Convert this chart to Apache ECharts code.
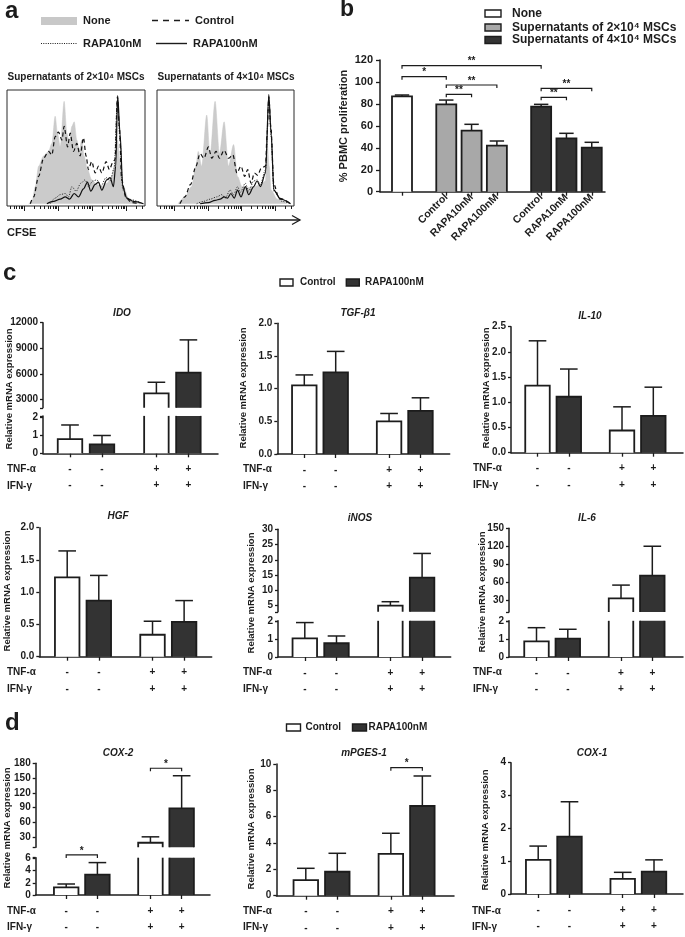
<!DOCTYPE html>
<html><head><meta charset="utf-8"><title>RAPA MSC figure</title>
<script src="https://cdn.jsdelivr.net/npm/echarts@6/dist/echarts.min.js"></script>
<style>html,body{margin:0;padding:0;background:#fff;}#chart{width:685px;height:937px;}</style>
</head><body><div id="chart"></div>
<script>
// ======================= DATA =======================
// Panel a: CFSE histograms  [CFSE channel (0-100), relative count (0-100)]
const aLegend = ['None', 'Control', 'RAPA10nM', 'RAPA100nM'];
const aTitles = ['Supernatants of 2×10⁴ MSCs', 'Supernatants of 4×10⁴ MSCs'];
const aAxisName = 'CFSE';
const cfse2None = [[15.7,0],[18.1,2],[20.5,15],[22.9,33],[26.5,42],[30.1,46],[32.5,53],[34.9,77],[36.6,62],[38.6,50],[41.4,90],[43.4,62],[45.1,53],[47.0,68],[48.7,72],[50.6,56],[52.3,47],[54.2,56],[55.9,42],[58.3,30],[61.4,21],[65.1,17],[68.7,15],[72.3,18],[75.9,24],[78.3,36],[80.0,56],[81.9,39],[84.3,15],[88.0,5],[91.6,1],[98.8,0]];
const cfse2Control = [[16.9,0],[19.3,6],[22.9,24],[26.5,40],[30.1,46],[32.5,43],[34.9,59],[37.3,63],[39.8,56],[41.4,68],[43.9,50],[45.8,62],[48.2,46],[50.6,53],[53.0,42],[55.4,58],[57.3,42],[59.0,30],[61.4,37],[63.9,27],[66.3,33],[68.7,27],[71.8,37],[74.2,30],[76.6,36],[78.3,39],[80.0,94],[81.4,68],[83.1,21],[86.3,5],[90.4,1],[96.4,0]];
const cfse2Rapa10 = [[31.3,0],[34.9,5],[38.6,8],[42.2,9],[44.6,6],[47.0,15],[50.1,11],[53.5,18],[56.6,21],[59.0,15],[62.2,20],[65.1,21],[67.9,15],[71.8,23],[74.7,20],[77.6,31],[80.0,91],[81.9,56],[83.9,12],[88.0,4],[98.8,0]];
const cfse2Rapa100 = [[28.9,0],[33.7,2],[38.6,4],[42.2,6],[45.3,4],[48.7,9],[51.8,6],[55.4,13],[58.3,19],[60.7,11],[63.9,17],[66.3,19],[68.7,12],[72.3,21],[74.7,23],[77.1,15],[78.8,33],[80.2,95],[81.9,62],[83.9,15],[86.7,5],[91.6,2],[98.8,0]];
const cfse4None = [[15.4,0],[20.3,6],[25.2,15],[28.4,33],[30.1,46],[32.6,33],[36.3,78],[38.7,42],[42.4,90],[45.6,44],[49.0,72],[52.2,33],[55.9,52],[58.8,24],[62.0,15],[65.7,14],[70.6,15],[75.5,17],[79.2,20],[80.4,53],[81.9,33],[83.3,12],[87.7,4],[95.1,0]];
const cfse4Control = [[16.7,0],[20.3,6],[24.5,17],[28.4,33],[31.4,44],[34.3,40],[37.5,50],[40.0,40],[43.1,46],[45.6,40],[49.0,47],[52.2,40],[55.4,43],[58.3,27],[61.3,33],[64.0,24],[66.2,30],[68.6,18],[71.1,27],[73.5,25],[76.0,31],[79.2,33],[80.4,62],[81.6,94],[83.1,68],[85.3,17],[89.0,5],[97.5,0]];
const cfse4Rapa10 = [[28.9,0],[33.8,2],[38.7,4],[43.6,6],[47.3,8],[49.8,5],[53.4,12],[55.9,8],[58.8,15],[60.8,10],[64.5,18],[66.9,11],[70.6,20],[73.0,21],[75.5,17],[79.2,30],[81.6,91],[83.3,59],[85.3,11],[91.4,2],[97.5,0]];
const cfse4Rapa100 = [[31.4,0],[37.5,1],[42.4,3],[46.1,4],[49.0,6],[51.5,5],[53.9,9],[56.4,5],[58.8,12],[61.3,6],[64.5,15],[66.9,8],[70.6,15],[73.0,20],[75.5,15],[79.2,27],[81.6,96],[83.3,62],[85.3,12],[90.2,4],[97.5,0]];

// Panel b: % PBMC proliferation
const bLegend = ['None', 'Supernatants of 2×10⁴ MSCs', 'Supernatants of 4×10⁴ MSCs'];
const bLabels = ['', 'Control', 'RAPA10nM', 'RAPA100nM', 'Control', 'RAPA10nM', 'RAPA100nM'];
const bGroup = [0, 1, 1, 1, 2, 2, 2];
const bMean = [86.8, 79.6, 55.6, 41.9, 77.5, 48.6, 40.1];
const bErr = [1.3, 3.9, 5.8, 4.3, 2.1, 4.6, 4.9];
const bYName = '% PBMC proliferation';
const bYTicks = [0, 20, 40, 60, 80, 100, 120];
// significance: [bar i, bar j, bracket height, mark]
const bSig = [[0, 4, 114.8, '**'], [0, 1, 104.8, '*'], [1, 3, 97.2, '**'], [1, 2, 88.7, '**'], [4, 6, 94.2, '**'], [4, 5, 86.0, '**']];

// Panels c & d: relative mRNA expression
// bar order: Control(-/-), RAPA100nM(-/-), Control(+/+), RAPA100nM(+/+)
const cdLegend = ['Control', 'RAPA100nM'];
const barGroup = [0, 1, 0, 1];
const tnfAlpha = ['-', '-', '+', '+'];
const ifnGamma = ['-', '-', '+', '+'];
const yName = 'Relative mRNA expression';

const idoMean = [0.8, 0.5, 3700, 6130];     const idoErr = [0.79, 0.5, 1300, 3850];
const tgfMean = [1.05, 1.25, 0.50, 0.66];   const tgfErr = [0.16, 0.32, 0.12, 0.20];
const il10Mean = [1.33, 1.11, 0.44, 0.73];  const il10Err = [0.89, 0.55, 0.47, 0.57];
const hgfMean = [1.23, 0.87, 0.34, 0.54];   const hgfErr = [0.41, 0.39, 0.21, 0.33];
const inosMean = [1.06, 0.78, 5.0, 14.2];   const inosErr = [0.89, 0.41, 1.3, 7.9];
const il6Mean = [0.89, 1.04, 32.8, 70.7];   const il6Err = [0.77, 0.53, 22.2, 49.3];
const cox2Mean = [1.26, 3.33, 19.0, 88.8];  const cox2Err = [0.54, 1.97, 12.0, 66.0];
const mpgesMean = [1.19, 1.82, 3.17, 6.81]; const mpgesErr = [0.89, 1.40, 1.57, 2.28];
const cox1Mean = [1.04, 1.75, 0.46, 0.68];  const cox1Err = [0.42, 1.06, 0.20, 0.36];
const cox2Sig = [[0, 1, 6.55, '*'], [2, 3, 170, '*']];
const mpgesSig = [[2, 3, 9.72, '*']];

// tick labels
const idoUpperTicks = [3000, 6000, 9000, 12000]; const idoLowerTicks = [0, 1, 2];
const inosUpperTicks = [5, 10, 15, 20, 25, 30];  const inosLowerTicks = [0, 1, 2];
const il6UpperTicks = [30, 60, 90, 120, 150];    const il6LowerTicks = [0, 1, 2];
const cox2UpperTicks = [30, 60, 90, 120, 150, 180]; const cox2LowerTicks = [0, 2, 4, 6];

// ======================= STYLE / LAYOUT =======================
const FONT = '"Liberation Sans", Arial, Helvetica, "DejaVu Sans", sans-serif';
const INK = '#1c1c1c';
const cdFills = ['#ffffff', '#333333'];
const bFills = ['#ffffff', '#a8a8a8', '#333333'];
const POS = [0, 1, 2.7, 3.7];
const bSlots = [0, 1.75, 2.75, 3.75, 5.5, 6.5, 7.5];

const grids = [], xAxes = [], yAxes = [], series = [], graphics = [];

function txt(x, y, text, o) {
  o = o || {};
  graphics.push({type: 'text', x: x, y: y, rotation: o.rot || 0, silent: true,
    style: {text: text, fill: INK, fontFamily: FONT, fontSize: o.size || 10, fontWeight: o.weight || 'bold',
      fontStyle: o.italic ? 'italic' : 'normal', align: o.align || 'left', verticalAlign: 'middle'}});
}
function rect(x, y, w, h, fill, stroke) {
  graphics.push({type: 'rect', silent: true, shape: {x: x, y: y, width: w, height: h},
    style: {fill: fill, stroke: stroke || null, lineWidth: stroke ? 1.4 : 0}});
}
function seg(x1, y1, x2, y2, dash, w) {
  graphics.push({type: 'line', silent: true, shape: {x1: x1, y1: y1, x2: x2, y2: y2},
    style: {stroke: INK, lineWidth: w || 1.3, lineDash: dash || null}});
}

// ---------- bar renderer (manual clipping for broken axes) ----------
function barRender(barPx, fills) {
  return function (params, api) {
    const x = api.value(0), v = api.value(1), e = api.value(2), ci = api.value(3);
    const cs = params.coordSys;
    const yTop = cs.y, yBot = cs.y + cs.height;
    const pT = api.coord([x, v]), pB = api.coord([x, 0]);
    if (pT[1] > yBot + 0.5) return null;
    const cx = pT[0], h = barPx / 2;
    const topVis = pT[1] >= yTop - 0.5;
    const yt = Math.max(pT[1], yTop), yb = Math.min(pB[1], yBot);
    const st = {stroke: INK, lineWidth: 1.8, fill: null};
    const kids = [{type: 'rect', shape: {x: cx - h, y: yt, width: barPx, height: yb - yt}, style: {fill: fills[ci]}}];
    if (topVis) {
      kids.push({type: 'polyline', shape: {points: [[cx - h, yb], [cx - h, yt], [cx + h, yt], [cx + h, yb]]}, style: st});
      if (e > 0) {
        const pe = api.coord([x, v + e]);
        const cap = barPx * 0.36;
        kids.push({type: 'line', shape: {x1: cx, y1: yt, x2: cx, y2: pe[1]}, style: {stroke: INK, lineWidth: 1.5}});
        kids.push({type: 'line', shape: {x1: cx - cap, y1: pe[1], x2: cx + cap, y2: pe[1]}, style: {stroke: INK, lineWidth: 1.5}});
      }
    } else {
      kids.push({type: 'line', shape: {x1: cx - h, y1: yt, x2: cx - h, y2: yb}, style: st});
      kids.push({type: 'line', shape: {x1: cx + h, y1: yt, x2: cx + h, y2: yb}, style: st});
    }
    return {type: 'group', children: kids};
  };
}
function sigRender(marks) {
  return function (params, api) {
    const p1 = api.coord([api.value(0), api.value(2)]), p2 = api.coord([api.value(1), api.value(2)]);
    return {type: 'group', children: [
      {type: 'polyline', shape: {points: [[p1[0], p1[1] + 3], [p1[0], p1[1]], [p2[0], p2[1]], [p2[0], p2[1] + 3]]},
        style: {stroke: INK, lineWidth: 1.2, fill: null}},
      {type: 'text', style: {text: marks[params.dataIndex], x: (p1[0] + p2[0]) / 2, y: p1[1] + 1, align: 'center',
        verticalAlign: 'bottom', fontFamily: FONT, fontSize: 10, fontWeight: 'bold', fill: INK}}
    ]};
  };
}

const axisLineStyle = {show: true, onZero: false, lineStyle: {color: INK, width: 1.5}};
const labelStyle = {color: INK, fontFamily: FONT, fontSize: 10, fontWeight: 'bold'};

// ---------- Panel a ----------
const DEC = [12.5, 37.1, 61.7, 86.3];
const MINOR = [];
for (let d = -1; d < 4; d++) for (let k = 2; k <= 9; k++) {
  const v = 12.5 + 24.6 * (d + Math.log10(k));
  if (v > 0.5 && v < 99.5) MINOR.push(+v.toFixed(2));
}
function addHist(L, curves) {
  const gi = grids.length;
  grids.push({left: L.left, top: L.top, width: L.width, height: L.height, show: true, borderColor: '#2a2a2a',
    borderWidth: 1, backgroundColor: 'transparent', containLabel: false, outerBoundsMode: 'none'});
  [[DEC, 5], [MINOR, 3]].forEach(function (t) {
    xAxes.push({gridIndex: gi, type: 'value', position: 'bottom', min: 0, max: 100, axisLine: {show: false, onZero: false},
      splitLine: {show: false}, axisLabel: {show: false},
      axisTick: {show: true, inside: false, length: t[1], customValues: t[0], lineStyle: {color: INK, width: 1}}});
  });
  yAxes.push({gridIndex: gi, type: 'value', min: -2, max: 100, show: false, splitLine: {show: false}});
  const xi = xAxes.length - 2, yi = yAxes.length - 1;
  const base = {type: 'line', xAxisIndex: xi, yAxisIndex: yi, symbol: 'none', smooth: 0.3, smoothMonotone: 'x', animation: false};
  series.push(Object.assign({}, base, {name: aLegend[0], data: curves[0], z: 1, lineStyle: {width: 0.5, color: '#c6c6c6'},
    areaStyle: {color: '#cbcbcb', opacity: 1}}));
  series.push(Object.assign({}, base, {name: aLegend[2], data: curves[2], z: 3, lineStyle: {width: 1, color: '#333', type: [1.2, 1.4]}}));
  series.push(Object.assign({}, base, {name: aLegend[3], data: curves[3], z: 3, lineStyle: {width: 1.2, color: '#111'}}));
  series.push(Object.assign({}, base, {name: aLegend[1], data: curves[1], z: 4, lineStyle: {width: 1.2, color: '#111', type: [4, 3]}}));
}
addHist({left: 7, top: 90, width: 138, height: 116}, [cfse2None, cfse2Control, cfse2Rapa10, cfse2Rapa100]);
addHist({left: 157, top: 90, width: 137, height: 116}, [cfse4None, cfse4Control, cfse4Rapa10, cfse4Rapa100]);

txt(5, 11, 'a', {size: 24});
rect(41, 17, 36, 8, '#c8c8c8');
txt(83, 21, aLegend[0], {size: 11});
seg(152, 20.5, 189, 20.5, [6, 5], 1.4);
txt(195, 21, aLegend[1], {size: 11});
seg(41, 43.5, 77, 43.5, [1, 1.3], 1.1);
txt(83, 43.5, aLegend[2], {size: 11});
seg(156, 43.5, 187, 43.5, null, 1.4);
txt(193, 43.5, aLegend[3], {size: 11});
txt(76, 77, aTitles[0], {size: 10, align: 'center'});
txt(226, 77, aTitles[1], {size: 10, align: 'center'});
seg(7, 220, 300, 220, null, 1.3);
graphics.push({type: 'polyline', silent: true, shape: {points: [[292, 215.5], [300, 220], [292, 224.5]]}, style: {stroke: INK, lineWidth: 1.3, fill: null}});
txt(7, 233, aAxisName, {size: 11});

// ---------- Panel b ----------
(function () {
  const gi = grids.length;
  const c0 = 402, unit = 25.3, left = 380, right = 605;
  grids.push({left: left, top: 60, width: right - left, height: 131.7, containLabel: false, outerBoundsMode: 'none'});
  const lblPos = bSlots.filter(function (p, i) { return bLabels[i] !== ''; });
  xAxes.push({gridIndex: gi, type: 'value', min: (left - c0) / unit, max: (right - c0) / unit, axisLine: axisLineStyle,
    splitLine: {show: false},
    axisTick: {show: true, length: 4, customValues: bSlots, lineStyle: {color: INK, width: 1.3}},
    axisLabel: Object.assign({}, labelStyle, {fontSize: 10.5, rotate: 45, margin: 4, customValues: lblPos,
      formatter: function (v) { const i = bSlots.findIndex(function (p) { return Math.abs(p - v) < 1e-6; }); return i < 0 ? '' : bLabels[i]; }})});
  yAxes.push({gridIndex: gi, type: 'value', min: bYTicks[0], max: bYTicks[bYTicks.length - 1], interval: 20,
    axisLine: axisLineStyle, splitLine: {show: false},
    axisTick: {show: true, length: 4, lineStyle: {color: INK, width: 1.3}},
    axisLabel: Object.assign({}, labelStyle, {fontSize: 11, margin: 7})});
  const xi = xAxes.length - 1, yi = yAxes.length - 1;
  series.push({type: 'custom', xAxisIndex: xi, yAxisIndex: yi, renderItem: barRender(20, bFills), animation: false,
    data: bMean.map(function (m, i) { return [bSlots[i], m, bErr[i], bGroup[i]]; })});
  series.push({type: 'custom', xAxisIndex: xi, yAxisIndex: yi, renderItem: sigRender(bSig.map(function (s) { return s[3]; })), animation: false,
    data: bSig.map(function (s) { return [bSlots[s[0]], bSlots[s[1]], s[2]]; })});
  txt(340, 10, 'b', {size: 23});
  rect(485, 10, 16, 7, bFills[0], INK);
  rect(485, 24, 16, 7, bFills[1], INK);
  rect(485, 36.5, 16, 7, bFills[2], INK);
  txt(512, 13.5, bLegend[0], {size: 12});
  txt(512, 27.5, bLegend[1], {size: 12});
  txt(512, 40, bLegend[2], {size: 12});
  txt(344, 126, bYName, {size: 11, rot: Math.PI / 2, align: 'center'});
})();

// ---------- Panels c & d ----------
function fmt1(v) { return v.toFixed(1); }
function fmt0(v) { return String(v); }
function addBarChart(L, mean, err, sig, title) {
  const xmin = (L.left - L.c0) / L.unit, xmax = (L.right - L.c0) / L.unit;
  L.panes.forEach(function (P, k) {
    const gi = grids.length;
    const isBottom = k === L.panes.length - 1;
    grids.push({left: L.left, top: P.top, width: L.right - L.left, height: P.bottom - P.top, containLabel: false, outerBoundsMode: 'none'});
    xAxes.push({gridIndex: gi, type: 'value', min: xmin, max: xmax, show: isBottom, axisLine: axisLineStyle,
      splitLine: {show: false},
      axisTick: {show: true, length: 4, customValues: POS, lineStyle: {color: INK, width: 1.3}},
      axisLabel: Object.assign({}, labelStyle, {margin: 7.5, lineHeight: 16.5, customValues: POS,
        formatter: function (v) { const i = POS.findIndex(function (p) { return Math.abs(p - v) < 1e-6; }); return i < 0 ? '' : tnfAlpha[i] + '\n' + ifnGamma[i]; }})});
    const ya = {gridIndex: gi, type: 'value', min: P.min, max: P.max, axisLine: axisLineStyle, splitLine: {show: false},
      axisTick: {show: true, length: 3, lineStyle: {color: INK, width: 1.3}},
      axisLabel: Object.assign({}, labelStyle, {margin: 5, formatter: P.fmt || fmt0})};
    if (P.labels) {
      ya.axisTick.customValues = P.labels.concat(P.brk);
      ya.axisLabel.customValues = P.labels;
    } else {
      ya.interval = P.interval;
    }
    yAxes.push(ya);
    const xi = xAxes.length - 1, yi = yAxes.length - 1;
    [0, 1].forEach(function (g) {
      series.push({type: 'custom', name: cdLegend[g], xAxisIndex: xi, yAxisIndex: yi, animation: false,
        renderItem: barRender(24.5, cdFills),
        data: mean.map(function (m, i) { return [POS[i], m, err[i], barGroup[i]]; }).filter(function (d, i) { return barGroup[i] === g; })});
    });
    const mySig = (sig || []).filter(function (s) {
      if (L.panes.length === 1) return true;
      return k === 0 ? s[2] > P.min : s[2] <= L.panes[0].min;
    });
    if (mySig.length) {
      series.push({type: 'custom', xAxisIndex: xi, yAxisIndex: yi, animation: false,
        renderItem: sigRender(mySig.map(function (s) { return s[3]; })),
        data: mySig.map(function (s) { return [POS[s[0]], POS[s[1]], s[2]]; })});
    }
  });
  txt(L.title[0], L.title[1], title, {italic: true, align: 'center'});
  txt(L.yname[0], L.yname[1], yName, {size: 9.5, rot: Math.PI / 2, align: 'center'});
  txt(L.tnf[0], L.tnf[1], 'TNF-α');
  txt(L.tnf[0], L.tnf[1] + 16.5, 'IFN-γ');
}

addBarChart({left: 43, right: 218, c0: 70, unit: 32, title: [122, 313], yname: [9, 389], tnf: [7, 469.5],
  panes: [{top: 322.7, bottom: 407.8, min: 2000, max: 12000, labels: idoUpperTicks, brk: [2000]},
          {top: 415.9, bottom: 453.3, min: 0, max: 2.1, labels: idoLowerTicks, brk: [2.1]}]}, idoMean, idoErr, null, 'IDO');
addBarChart({left: 277.3, right: 449.7, c0: 304.3, unit: 31.4, title: [358, 313], yname: [243, 388], tnf: [243, 469.5],
  panes: [{top: 323.3, bottom: 454, min: 0, max: 2, interval: 0.5, fmt: fmt1}]}, tgfMean, tgfErr, null, 'TGF-β1');
addBarChart({left: 511, right: 683, c0: 537.5, unit: 31.3, title: [590, 316], yname: [486, 388], tnf: [473, 468.5],
  panes: [{top: 326.7, bottom: 452.7, min: 0, max: 2.5, interval: 0.5, fmt: fmt1}]}, il10Mean, il10Err, null, 'IL-10');
addBarChart({left: 39.3, right: 211.7, c0: 67.2, unit: 31.6, title: [118, 516.7], yname: [7.5, 591], tnf: [7, 672.7],
  panes: [{top: 527.7, bottom: 656.7, min: 0, max: 2, interval: 0.5, fmt: fmt1}]}, hgfMean, hgfErr, null, 'HGF');
addBarChart({left: 278, right: 450.7, c0: 304.8, unit: 31.7, title: [360, 518.3], yname: [251, 593], tnf: [243, 672.7],
  panes: [{top: 529.3, bottom: 611.8, min: 3, max: 30, labels: inosUpperTicks, brk: [3]},
          {top: 620.8, bottom: 657, min: 0, max: 2.05, labels: inosLowerTicks, brk: [2.05]}]}, inosMean, inosErr, null, 'iNOS');
addBarChart({left: 509, right: 683, c0: 536.5, unit: 31.3, title: [587, 518.3], yname: [482.5, 592], tnf: [473, 672.7],
  panes: [{top: 528.3, bottom: 612, min: 10, max: 150, labels: il6UpperTicks, brk: [10]},
          {top: 620.8, bottom: 657, min: 0, max: 2.05, labels: il6LowerTicks, brk: [2.05]}]}, il6Mean, il6Err, null, 'IL-6');
addBarChart({left: 35.7, right: 210, c0: 66.2, unit: 31.2, title: [118, 753.3], yname: [7.5, 828], tnf: [7, 911],
  panes: [{top: 763.3, bottom: 847.2, min: 10, max: 180, labels: cox2UpperTicks, brk: [10]},
          {top: 857.7, bottom: 895, min: 0, max: 6.1, labels: cox2LowerTicks, brk: [6.1]}]}, cox2Mean, cox2Err, cox2Sig, 'COX-2');
addBarChart({left: 276.3, right: 454, c0: 305.8, unit: 31.5, title: [364, 753.3], yname: [251.5, 829], tnf: [243, 911],
  panes: [{top: 764, bottom: 895.7, min: 0, max: 10, interval: 2}]}, mpgesMean, mpgesErr, mpgesSig, 'mPGES-1');
addBarChart({left: 511, right: 683, c0: 538.2, unit: 31.3, title: [592, 753.3], yname: [485, 830], tnf: [472, 911],
  panes: [{top: 762.7, bottom: 894, min: 0, max: 4, interval: 1}]}, cox1Mean, cox1Err, null, 'COX-1');

// panel letters and legends
txt(3, 273, 'c', {size: 24});
txt(5, 723, 'd', {size: 24});
rect(280, 279, 13, 7, cdFills[0], INK); txt(300, 282.5, cdLegend[0]);
rect(346.3, 279, 13, 7, cdFills[1], INK); txt(365, 282.5, cdLegend[1]);
rect(286.5, 724, 14, 7, cdFills[0], INK); txt(305.5, 727.5, cdLegend[0]);
rect(352.5, 724, 14, 7, cdFills[1], INK); txt(368.5, 727.5, cdLegend[1]);

const chart = echarts.init(document.getElementById('chart'), null, {renderer: 'canvas', width: 685, height: 937});
chart.setOption({
  animation: false,
  backgroundColor: '#ffffff',
  textStyle: {fontFamily: FONT},
  grid: grids, xAxis: xAxes, yAxis: yAxes, series: series, graphic: graphics
});
</script></body></html>
